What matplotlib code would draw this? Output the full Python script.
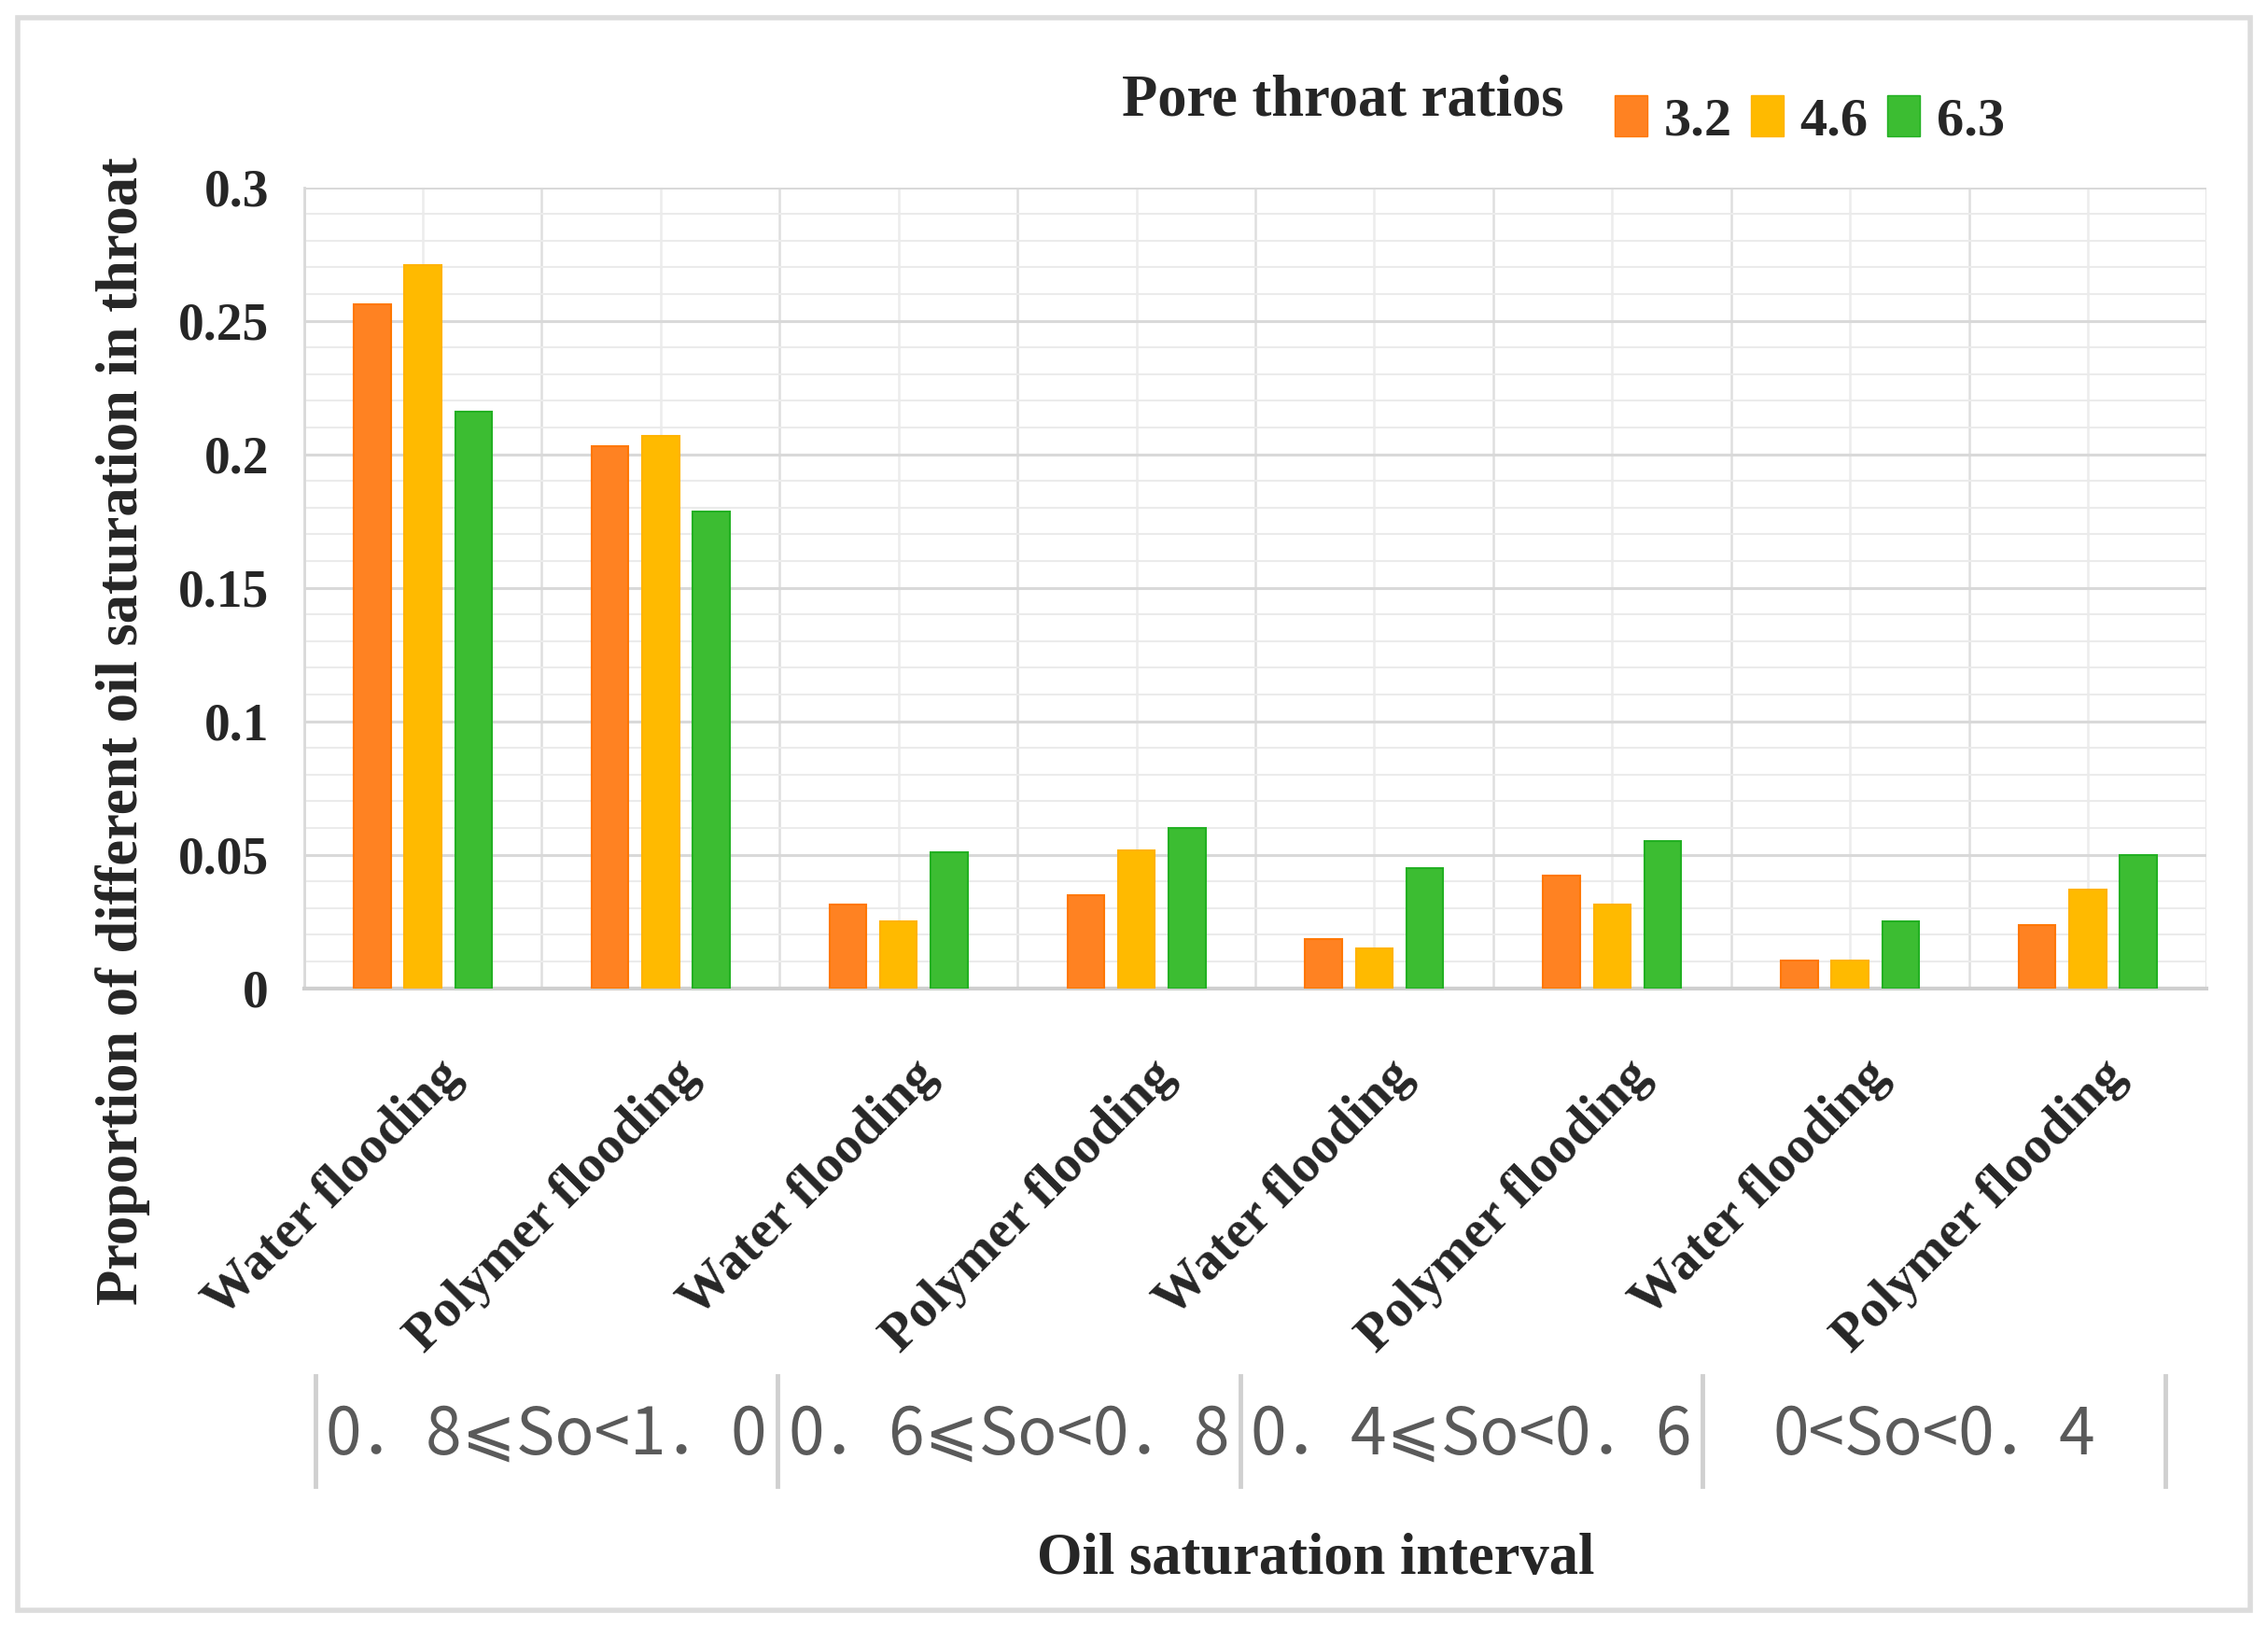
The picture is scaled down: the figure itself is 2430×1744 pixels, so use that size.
"""Oil saturation distribution in throats for three pore-throat ratios."""
import matplotlib
matplotlib.use("Agg")
import matplotlib.pyplot as plt
import matplotlib.transforms as mtransforms
import numpy as np
from matplotlib.lines import Line2D
from matplotlib.patches import Patch, Rectangle
from matplotlib.ticker import FuncFormatter, MultipleLocator

# ---- data ----
methods = ["Water flooding", "Polymer flooding"] * 4
intervals = ["0．8⩽So<1．0", "0．6⩽So<0．8", "0．4⩽So<0．6", "0<So<0．4"]
ratios = ["3.2", "4.6", "6.3"]
ratio_32 = [0.256, 0.203, 0.0315, 0.035, 0.0185, 0.042, 0.0105, 0.0235]
ratio_46 = [0.271, 0.207, 0.025, 0.0515, 0.015, 0.0315, 0.0105, 0.037]
ratio_63 = [0.216, 0.1785, 0.051, 0.060, 0.045, 0.055, 0.025, 0.050]

colors = ["#FF8222", "#FFBA00", "#3CBD32"]
edges = ["#FF7700", "#FFB300", "#22B022"]
text_c = "#262626"

plt.rcParams["font.family"] = "Liberation Serif"
plt.rcParams["font.weight"] = "bold"

fig = plt.figure(figsize=(24.3, 17.44), dpi=100)
fig.patches.append(Rectangle((0.008, 0.011), 0.984, 0.978, transform=fig.transFigure,
                             fill=False, edgecolor="#dcdcdc", linewidth=4))

ax = fig.add_axes([0.134, 0.393, 0.839, 0.492])
x = np.arange(len(methods))
width = 0.155
offsets = [-0.213, 0.0, 0.213]
for vals, off, c, ec, lab in zip([ratio_32, ratio_46, ratio_63], offsets, colors, edges, ratios):
    ax.bar(x + off, vals, width, color=c, edgecolor=ec, linewidth=1.5, label=lab, zorder=3)

ax.set_xlim(-0.5, len(methods) - 0.5)
ax.set_ylim(0, 0.3)
ax.yaxis.set_major_locator(MultipleLocator(0.05))
ax.yaxis.set_minor_locator(MultipleLocator(0.01))
ax.yaxis.set_major_formatter(FuncFormatter(lambda v, p: f"{v:g}"))
ax.grid(which="major", axis="y", color="#d9d9d9", linewidth=2.2, zorder=0)
ax.grid(which="minor", axis="y", color="#ebebeb", linewidth=1.5, zorder=0)
for xv in np.arange(-0.5, len(methods), 0.5):
    ax.axvline(xv, color="#dedede" if xv % 1 else "#ececec", linewidth=1.8, zorder=0)
ax.set_axisbelow(True)

for s in ["top", "right"]:
    ax.spines[s].set_visible(False)
ax.spines["left"].set_color("#d9d9d9")
ax.spines["left"].set_linewidth(2)
ax.spines["bottom"].set_color("#cfcfcf")
ax.spines["bottom"].set_linewidth(3)

ax.tick_params(axis="both", which="both", length=0)
ax.tick_params(axis="y", pad=27, labelsize=40, labelcolor=text_c)
ax.tick_params(axis="x", pad=0, labelsize=41, labelcolor=text_c)
ax.set_xticks(x)
ax.set_xticklabels(methods, rotation=45, ha="right", va="center", rotation_mode="anchor")
shift = mtransforms.ScaledTranslation(0.33, -0.86, fig.dpi_scale_trans)
for lbl in ax.get_xticklabels():
    lbl.set_transform(lbl.get_transform() + shift)

# interval table under the tick labels
blend = mtransforms.blended_transform_factory(ax.transAxes, fig.transFigure)
seps = np.linspace(0.006, 0.978, len(intervals) + 1)
for sx in seps:
    fig.add_artist(Line2D([sx, sx], [0.087, 0.155], transform=blend,
                          color="#d0d0d0", linewidth=3.5))
for i, name in enumerate(intervals):
    fig.text((seps[i] + seps[i + 1]) / 2, 0.118, name, transform=blend,
             ha="center", va="center", fontsize=50, color="#5a5a5a",
             family=["Noto Sans CJK SC", "DejaVu Sans"], weight="normal")

fig.text(0.580, 0.042, "Oil saturation interval", ha="center", va="center",
         fontsize=45, color=text_c)
fig.text(0.054, 0.551, "Proportion of different oil saturation in throat", rotation=90,
         ha="center", va="center", fontsize=45, color=text_c)

# legend with title set to its left
fig.text(0.592, 0.938, "Pore throat ratios", ha="center", va="center",
         fontsize=45, color=text_c)
handles = [Patch(facecolor=c, edgecolor=ec) for c, ec in zip(colors, edges)]
fig.legend(handles, ratios, loc="center left", bbox_to_anchor=(0.712, 0.926), ncol=3,
           frameon=False, fontsize=42, handlelength=0.6, handleheight=0.8,
           handletextpad=0.3, columnspacing=0.35, borderpad=0, borderaxespad=0,
           labelcolor=text_c)

fig.savefig("out.png", dpi=100)
